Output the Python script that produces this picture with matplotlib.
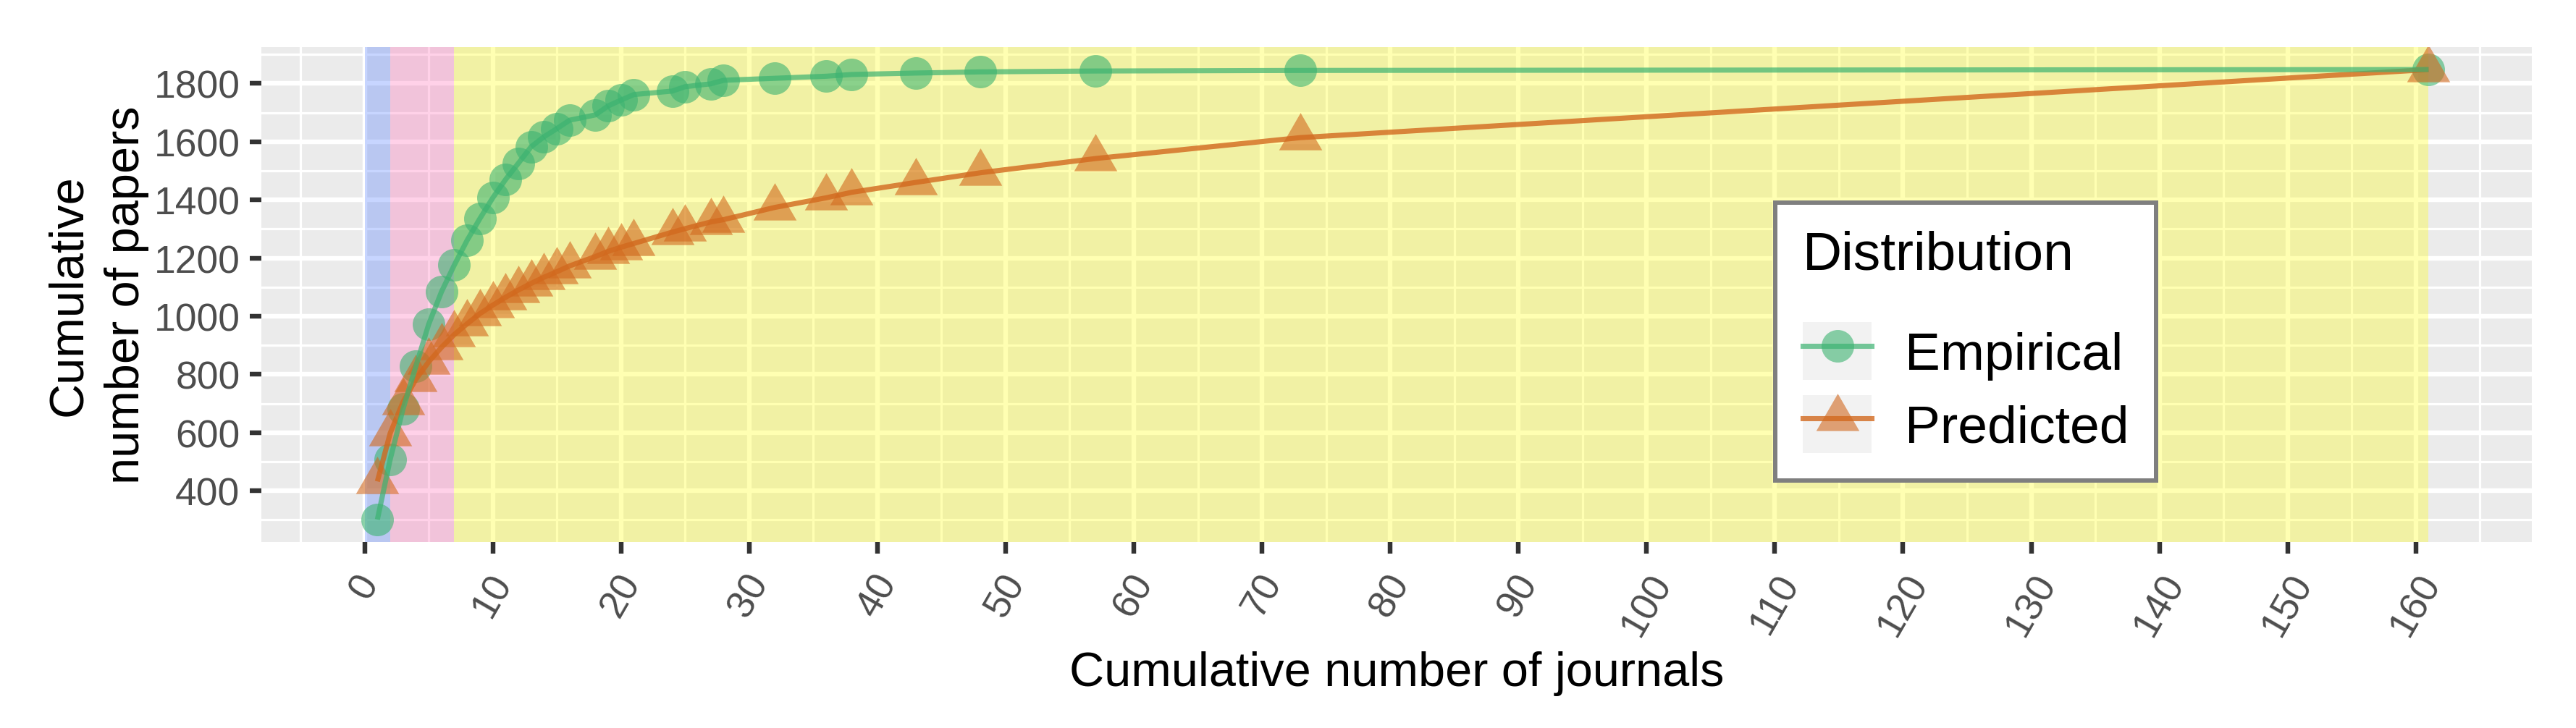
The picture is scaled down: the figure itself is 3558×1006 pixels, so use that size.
import matplotlib
matplotlib.use("Agg")
import matplotlib.pyplot as plt
from matplotlib.lines import Line2D
from matplotlib.patches import Rectangle
from matplotlib.colors import to_rgba
from matplotlib.ticker import MultipleLocator

plt.rcParams['font.family'] = ['Liberation Sans', 'DejaVu Sans']

# cumulative number of journals (x) and cumulative papers (y)
journals = [1, 2, 3, 4, 5, 6, 7, 8, 9, 10, 11, 12, 13, 14, 15, 16,
            18, 19, 20, 21, 24, 25, 27, 28, 32, 36, 38, 43, 48, 57, 73, 161]
papers_empirical = [301, 508, 681, 828, 972, 1084, 1176, 1261, 1336, 1407,
                    1470, 1526, 1583, 1617, 1645, 1674, 1692, 1723, 1743, 1762,
                    1774, 1789, 1799, 1811, 1818, 1825, 1831, 1836, 1840, 1843,
                    1845, 1848]
papers_predicted = [432, 598, 705, 783, 843, 893, 937, 974, 1009, 1038,
                    1065, 1090, 1113, 1134, 1153, 1173, 1205, 1223, 1237, 1250,
                    1289, 1301, 1324, 1332, 1374, 1407, 1426, 1460, 1493, 1542,
                    1614, 1848]

# Bradford zones along the x axis
zone_edges = [0, 2, 7, 161]
zone_colors = ['#4876FF', '#FF69B4', '#FFFF00']

series_names = ['Empirical', 'Predicted']

green = '#3CB371'
orange = '#D2691E'
tri = [(0, 0.577), (-0.5, -0.2887), (0.5, -0.2887)]

fig = plt.figure(figsize=(3558 / 300, 1007 / 300), dpi=300)
ax = fig.add_axes([361 / 3558, 1 - 750 / 1007, (3497 - 361) / 3558, (750 - 66) / 1007])
ax.set_facecolor('#EBEBEB')
for s in ax.spines.values():
    s.set_visible(False)

for lo, hi, col in zip(zone_edges[:-1], zone_edges[1:], zone_colors):
    ax.axvspan(lo, hi, color=col, alpha=0.3, lw=0, zorder=1)

ax.plot(journals, papers_empirical, ls='none', marker='o', ms=10.8,
        mfc=to_rgba(green, 0.6), mec='none', zorder=3)
ax.plot(journals, papers_predicted, ls='none', marker=tri, ms=16.5,
        mfc=to_rgba(orange, 0.6), mec='none', zorder=3)
ax.plot(journals, papers_predicted, color=to_rgba(orange, 0.8), lw=1.7,
        solid_capstyle='butt', zorder=4)
ax.plot(journals, papers_empirical, color=to_rgba(green, 0.7), lw=1.7,
        solid_capstyle='butt', zorder=5)

ax.set_xlim(-8.05, 169.05)
ax.set_ylim(223.6, 1925.4)
ax.xaxis.set_major_locator(MultipleLocator(10))
ax.xaxis.set_minor_locator(MultipleLocator(5))
ax.set_yticks(range(400, 1801, 200))
ax.yaxis.set_minor_locator(MultipleLocator(100))

ax.set_axisbelow(True)
ax.grid(which='major', color='white', lw=1.55)
ax.grid(which='minor', color='white', lw=0.78)
ax.tick_params(which='major', length=3.9, width=1.55, color='#333333',
               labelcolor='#4D4D4D', labelsize=12.8)
ax.tick_params(which='minor', length=0)
ax.tick_params(axis='y', pad=3.2)
ax.tick_params(axis='x', pad=4.5, labelrotation=60)

ax.set_xlabel('Cumulative number of journals', fontsize=16, labelpad=3)
ax.set_ylabel('Cumulative\nnumber of papers', fontsize=16, labelpad=1.5,
              linespacing=1.38, multialignment='center')


def key_bg():
    return Rectangle((0, 0), 1, 1, facecolor='#F2F2F2', edgecolor='none')


h_emp = (key_bg(), Line2D([], [], color=to_rgba(green, 0.7), lw=1.7, marker='o', ms=10.8,
                          mfc=to_rgba(green, 0.6), mec='none'))
h_pred = (key_bg(), Line2D([], [], color=to_rgba(orange, 0.8), lw=1.7, marker=tri, ms=16.5,
                           mfc=to_rgba(orange, 0.6), mec='none'))
leg = ax.legend([h_emp, h_pred], series_names, title='Distribution',
                loc='upper left', bbox_to_anchor=(0.6667, 0.686), borderaxespad=0,
                fontsize=17.6, title_fontsize=18, numpoints=1,
                handlelength=1.3, handleheight=1.3, handletextpad=0.62,
                labelspacing=0.28, borderpad=0.52, fancybox=False, framealpha=1,
                edgecolor='#7F7F7F', alignment='left')
leg.get_frame().set_linewidth(1.44)
leg.set_zorder(10)
leg._legend_box.sep = 14

fig.savefig('out.png', dpi=300)
